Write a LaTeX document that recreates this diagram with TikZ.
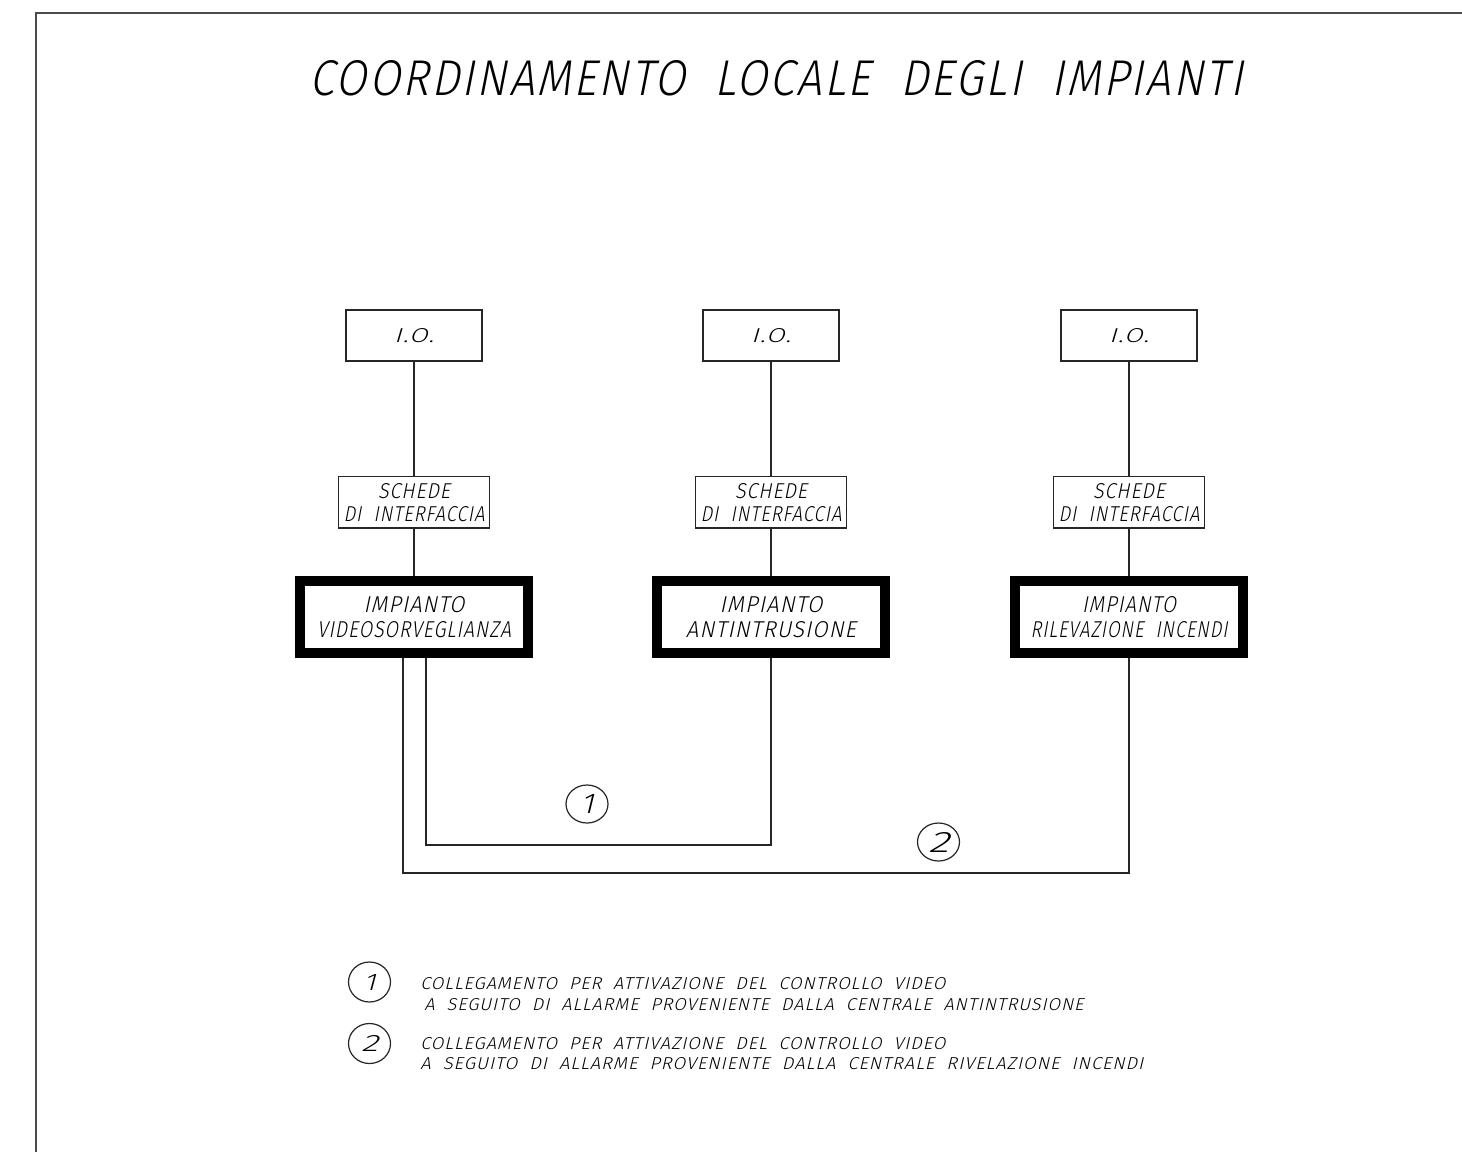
\documentclass[tikz,border=0pt]{standalone}
\usepackage{fontspec}
\usepackage{graphicx}
\usetikzlibrary{shapes.geometric}
\newfontfamily\cadfont{Fira Sans Light}[FakeSlant=0.22, LetterSpace=5, WordSpace=2]
\newlength\upx \setlength\upx{0.5pt}
\newcommand\cadtext[3]{\resizebox{#1\upx}{#2\upx}{\cadfont #3}}
\begin{document}
\begin{tikzpicture}[x=0.5pt, y=-0.5pt,
  frame/.style={line width=1pt, draw=black!70},
  wire/.style={line width=0.65pt, draw=black!85},
  iobox/.style={draw=black!85, line width=0.65pt, minimum width=136\upx, minimum height=51\upx, inner sep=0pt},
  cardbox/.style={draw=black!85, line width=0.65pt, minimum width=151\upx, minimum height=51.5\upx, inner sep=0pt, align=center, font=\fontsize{10}{11.5}\selectfont},
  plantbox/.style={draw=black, line width=5pt, minimum width=228\upx, minimum height=72\upx, inner sep=0pt, align=center, font=\fontsize{10}{12.25}\selectfont},
  tag/.style={draw=black!85, ellipse, line width=0.6pt, minimum width=42\upx, minimum height=38\upx, inner sep=0pt},
  ltext/.style={anchor=west, inner sep=0pt}]
\useasboundingbox (0,0) rectangle (1462,1152);
\fill[white] (0,0) rectangle (1462,1152);
% frame
\draw[frame] (1462,12.5) -- (36,12.5) -- (36,1152);
% title
\node[inner sep=0pt] (title) at (776.5,78.5) {\cadtext{933}{35}{COORDINAMENTO LOCALE DEGLI IMPIANTI}};
% I.O. boxes
\node[iobox] (io1) at (414,335.5) {\cadtext{40}{14}{I.O.}};
\node[iobox] (io2) at (771,335.5) {\cadtext{40}{14}{I.O.}};
\node[iobox] (io3) at (1129,335.5) {\cadtext{40}{14}{I.O.}};
% interface cards
\node[cardbox] (sc1) at (414,502.25) {\cadtext{72}{15}{SCHEDE}\\\cadtext{141}{15}{DI INTERFACCIA}};
\node[cardbox] (sc2) at (771,502.25) {\cadtext{72}{15}{SCHEDE}\\\cadtext{141}{15}{DI INTERFACCIA}};
\node[cardbox] (sc3) at (1129,502.25) {\cadtext{72}{15}{SCHEDE}\\\cadtext{141}{15}{DI INTERFACCIA}};
% plants
\node[plantbox] (pl1) at (414,617) {\cadtext{101}{16}{IMPIANTO}\\\cadtext{194}{16}{VIDEOSORVEGLIANZA}};
\node[plantbox] (pl2) at (771,617) {\cadtext{103}{16}{IMPIANTO}\\\cadtext{170}{16}{ANTINTRUSIONE}};
\node[plantbox] (pl3) at (1129,617) {\cadtext{94}{16}{IMPIANTO}\\\cadtext{197}{16}{RILEVAZIONE INCENDI}};
% vertical links
\foreach \i in {1,2,3} {
  \draw[wire] (io\i) -- (sc\i);
  \draw[wire] (sc\i) -- (pl\i);
}
% coordination links
\coordinate (r1) at (0,845);
\coordinate (r2) at (0,873);
\draw[wire] ([xshift=12\upx]pl1.south) |- (pl2.south |- r1) -- (pl2.south);
\draw[wire] ([xshift=-11\upx]pl1.south) |- (pl3.south |- r2) -- (pl3.south);
% tags
\node[tag] (t1) at (587,804) {\cadtext{13}{19}{1}};
\node[tag] (t2) at (938.5,842) {\cadtext{21}{20}{2}};
% legend
\node[tag, minimum height=40\upx] (k1) at (369.5,982) {\cadtext{12}{16}{1}};
\node[tag, minimum height=40\upx] (k2) at (369.5,1043.5) {\cadtext{17}{16}{2}};
\node[ltext] (k1a) at (420,983.5) {\cadtext{525}{12}{COLLEGAMENTO PER ATTIVAZIONE DEL CONTROLLO VIDEO}};
\node[ltext] (k1b) at (424,1005) {\cadtext{659}{12}{A SEGUITO DI ALLARME PROVENIENTE DALLA CENTRALE ANTINTRUSIONE}};
\node[ltext] (k2a) at (420,1044) {\cadtext{525}{12}{COLLEGAMENTO PER ATTIVAZIONE DEL CONTROLLO VIDEO}};
\node[ltext] (k2b) at (420,1064) {\cadtext{723}{12}{A SEGUITO DI ALLARME PROVENIENTE DALLA CENTRALE RIVELAZIONE INCENDI}};
\end{tikzpicture}
\end{document}
